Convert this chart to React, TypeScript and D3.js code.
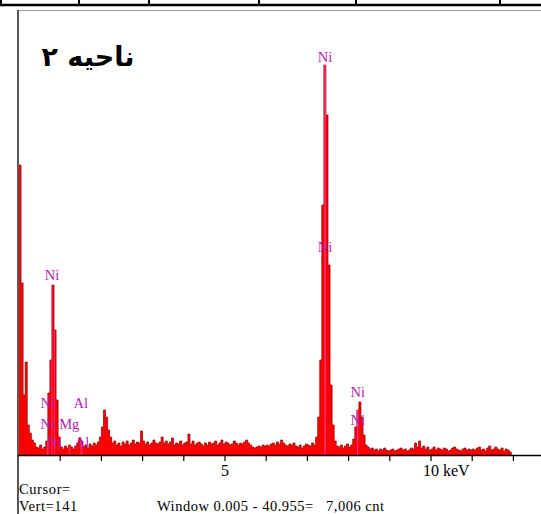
import React, { useEffect, useRef } from "react";
import * as d3 from "d3";

// EDS spectrum, 0.05 keV per channel, counts
const channelWidth = 0.05;
const counts = [
  // 0.00 - 0.95
  290, 172, 60, 93, 30, 22, 15, 12, 8, 7, 10, 6, 8, 14, 62, 95, 170, 125, 55, 18,
  // 1.00 - 1.95
  8, 6, 9, 7, 10, 8, 6, 9, 12, 17, 14, 8, 10, 7, 11, 9, 12, 10, 13, 18,
  // 2.00 - 2.95
  28, 45, 38, 25, 18, 12, 14, 10, 12, 9, 13, 11, 14, 10, 12, 15, 11, 13, 12, 24,
  // 3.00 - 3.95
  14, 11, 13, 10, 12, 15, 12, 11, 13, 18, 12, 14, 11, 13, 17, 10, 12, 11, 14, 10,
  // 4.00 - 4.95
  12, 13, 21, 11, 14, 10, 12, 13, 11, 9, 12, 10, 13, 11, 12, 14, 10, 12, 15, 11,
  // 5.00 - 5.95
  13, 12, 10, 11, 14, 12, 10, 12, 11, 13, 15, 12, 10, 8, 7, 8, 9, 8, 10, 9,
  // 6.00 - 6.95
  10, 9, 11, 12, 10, 13, 11, 15, 12, 10, 9, 11, 10, 12, 9, 8, 10, 7, 9, 11,
  // 7.00 - 7.95
  10, 9, 12, 10, 18, 38, 95, 250, 390, 340, 190, 70, 30, 14, 9, 8, 10, 7, 9, 11,
  // 8.00 - 8.95
  8, 10, 16, 28, 45, 53, 38, 20, 10, 8, 6, 7, 5, 6, 4, 6, 5, 7, 5, 4,
  // 9.00 - 9.95
  5, 6, 4, 5, 6, 7, 5, 6, 4, 5, 7, 6, 12, 8, 14, 7, 9, 6, 8, 5,
  // 10.00 - 10.95
  6, 8, 5, 7, 6, 5, 7, 6, 4, 5, 7, 8, 6, 5, 4, 6, 7, 5, 6, 5,
  // 11.00 - 11.90
  6, 5, 7, 8, 5, 6, 4, 7, 9, 5, 6, 8, 6, 5, 7, 4, 6, 5, 3,
];

// peak identification labels: element, line energy (keV), label height (counts)
const labelNames = ["Ni", "Ni", "Ni", "Ni", "Ni", "Ni", "Mg", "Al", "Al", "Ni", "Ni"];
const labelEnergy = [7.43, 7.43, 0.8, 0.7, 0.7, 0.86, 1.22, 1.5, 1.53, 8.22, 8.22];
const labelCounts = [398, 208, 180, 52, 31, 13, 31, 52, 13, 63, 35];

const xTicks = d3.range(1, 13);
const title = "ناحیه ۲";
const cursorText = ["Cursor=", "Vert=141"];
const windowText = "Window 0.005 - 40.955=   7,006 cnt";
const tableCols = [1, 79, 149, 259, 356, 500];

const W = 541;
const H = 514;

const App = () => {
  const svgRef = useRef<SVGSVGElement>(null);

  useEffect(() => {
    const svg = d3.select(svgRef.current);
    svg.selectAll("*").remove();

    const x = d3.scaleLinear().domain([0, 12.7]).range([19, 19 + 12.7 * 41.2]);
    const y = d3.scaleLinear().domain([0, 400]).range([455, 55]);

    svg.append("rect").attr("width", W).attr("height", H).attr("fill", "#fff");

    // table border remains at the top of the page
    svg.append("line").attr("x1", 0).attr("x2", W).attr("y1", 5).attr("y2", 5)
      .attr("stroke", "#000").attr("stroke-width", 2.5);
    svg.selectAll(".tcol").data(tableCols).join("line")
      .attr("x1", (d) => d).attr("x2", (d) => d).attr("y1", 0).attr("y2", 5)
      .attr("stroke", "#000").attr("stroke-width", 2);

    // frame
    svg.append("line").attr("x1", 18).attr("x2", W).attr("y1", 10.5).attr("y2", 10.5)
      .attr("stroke", "#999").attr("stroke-width", 1.2);
    svg.append("line").attr("x1", 18).attr("x2", 18).attr("y1", 10).attr("y2", H)
      .attr("stroke", "#222").attr("stroke-width", 1.5);

    const data = counts.map((c, i) => ({ e: i * channelWidth, c }));
    data.push({ e: counts.length * channelWidth, c: 0 });

    const area = d3.area<{ e: number; c: number }>()
      .x((d) => x(d.e)).y0(y(0)).y1((d) => y(d.c))
      .curve(d3.curveStepAfter);
    const line = d3.line<{ e: number; c: number }>()
      .x((d) => x(d.e)).y((d) => y(d.c))
      .curve(d3.curveStepAfter);

    svg.append("path").datum(data).attr("d", area).attr("fill", "#ff0000");
    svg.append("path").datum(data).attr("d", line)
      .attr("fill", "none").attr("stroke", "#8a0000").attr("stroke-width", 0.7);

    // marker lines inside the peaks
    const countAt = (e: number) => counts[Math.min(counts.length - 1, Math.floor(e / channelWidth))];
    svg.selectAll(".marker").data(labelEnergy).join("line")
      .attr("x1", (d) => x(d)).attr("x2", (d) => x(d))
      .attr("y1", y(0)).attr("y2", (d) => y(countAt(d)))
      .attr("stroke", "#ff3fa0").attr("stroke-width", 0.9).attr("opacity", 0.8);

    // x axis
    svg.append("line").attr("x1", 18).attr("x2", W).attr("y1", 455.5).attr("y2", 455.5)
      .attr("stroke", "#000").attr("stroke-width", 1.5);
    svg.selectAll(".tick").data(xTicks).join("line")
      .attr("x1", (d) => x(d)).attr("x2", (d) => x(d))
      .attr("y1", 455).attr("y2", 461)
      .attr("stroke", "#000").attr("stroke-width", 1.2);

    const tickFont = "'Liberation Serif', 'Times New Roman', serif";
    svg.append("text").attr("x", x(5)).attr("y", 476).attr("text-anchor", "middle")
      .attr("font-family", tickFont).attr("font-size", 16).text("5");
    svg.append("text").attr("x", x(10) - 8).attr("y", 476)
      .attr("font-family", tickFont).attr("font-size", 16).text("10 keV");

    // peak labels
    labelNames.forEach((name, i) => {
      svg.append("text")
        .attr("x", x(labelEnergy[i])).attr("y", y(labelCounts[i]) + 5)
        .attr("text-anchor", "middle")
        .attr("font-family", tickFont).attr("font-size", 14.5)
        .attr("fill", "#b41eb4").text(name);
    });

    // title
    svg.append("text").attr("x", 88).attr("y", 66).attr("text-anchor", "middle")
      .attr("font-family", "'DejaVu Sans', sans-serif").attr("font-weight", "bold")
      .attr("font-size", 27).attr("fill", "#000").text(title);

    // status text
    svg.append("text").attr("x", 19).attr("y", 494)
      .attr("font-family", tickFont).attr("font-size", 14.5)
      .attr("letter-spacing", 0.6).text(cursorText[0]);
    svg.append("text").attr("x", 19).attr("y", 511)
      .attr("font-family", tickFont).attr("font-size", 14.5)
      .attr("letter-spacing", 0.6).text(cursorText[1]);
    svg.append("text").attr("x", 157).attr("y", 511)
      .attr("font-family", tickFont).attr("font-size", 14.5)
      .attr("letter-spacing", 0.5)
      .attr("xml:space", "preserve").style("white-space", "pre").text(windowText);
  }, []);

  return (
    <svg
      ref={svgRef}
      width={W}
      height={H}
      style={{ display: "block", position: "absolute", left: 0, top: 0 }}
    />
  );
};

export default App;
